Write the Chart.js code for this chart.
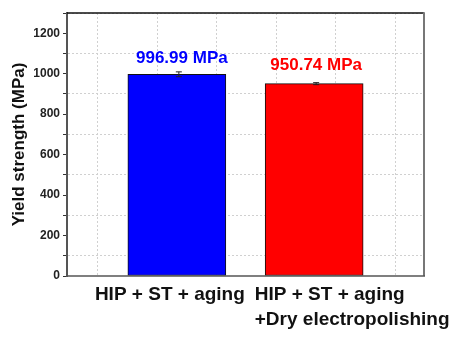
<!DOCTYPE html>
<html>
<head>
<meta charset="utf-8">
<script src="https://cdn.jsdelivr.net/npm/chart.js@4/dist/chart.umd.min.js"></script>
<style>
html,body{margin:0;padding:0;background:#fff;}
#wrap{width:459px;height:337px;position:relative;}
</style>
</head>
<body>
<div id="wrap"><canvas id="c" width="459" height="337"></canvas></div>
<script>
// ---- data ----
const categories = [["HIP + ST + aging"], ["HIP + ST + aging", "+Dry electropolishing"]];
const yieldStrength = [996.99, 950.74];
const errors = [12, 5];
const valueLabels = ["996.99 MPa", "950.74 MPa"];
const barColors = ["#0000FF", "#FF0000"];
const yTickValues = [0, 200, 400, 600, 800, 1000, 1200];

// ---- style ----
const FONT = "'Liberation Sans', Arial, sans-serif";
const labelShift = [-7, 38];

const framePlugin = {
  id: 'frame',
  afterDatasetsDraw(chart) {
    const {ctx, chartArea: a, scales} = chart;
    const xs = scales.x, ys = scales.y;
    const ds = chart.data.datasets[0];
    ctx.save();
    // error bars
    ctx.strokeStyle = '#222';
    ctx.lineWidth = 1;
    ds.data.forEach((p, i) => {
      const x = xs.getPixelForValue(p.x) + 2;
      const yT = ys.getPixelForValue(p.y + errors[i]);
      const yB = ys.getPixelForValue(p.y - errors[i]);
      ctx.beginPath();
      ctx.moveTo(x, yT); ctx.lineTo(x, yB);
      ctx.moveTo(x - 3, yT); ctx.lineTo(x + 3, yT);
      ctx.moveTo(x - 3, yB); ctx.lineTo(x + 3, yB);
      ctx.stroke();
    });
    // value labels
    ctx.font = "bold 17px " + FONT;
    ctx.textAlign = 'center';
    ctx.textBaseline = 'alphabetic';
    ds.data.forEach((p, i) => {
      const x = xs.getPixelForValue(p.x) + (i === 0 ? 5 : 2);
      const y = ys.getPixelForValue(p.y + errors[i]) - (i === 0 ? 9 : 13);
      ctx.fillStyle = barColors[i];
      ctx.fillText(valueLabels[i], x, y);
    });
    // frame
    ctx.strokeStyle = '#111';
    ctx.lineWidth = 1.5;
    ctx.beginPath(); ctx.moveTo(a.left, a.top); ctx.lineTo(a.right, a.top); ctx.stroke();
    ctx.strokeStyle = '#777';
    ctx.lineWidth = 2;
    ctx.beginPath(); ctx.moveTo(a.right, a.top - 0.75); ctx.lineTo(a.right, a.bottom); ctx.stroke();
    ctx.strokeStyle = '#555';
    ctx.lineWidth = 1.5;
    ctx.beginPath(); ctx.moveTo(a.left, a.bottom); ctx.lineTo(a.right + 1, a.bottom); ctx.stroke();
    // category labels
    ctx.fillStyle = '#111';
    ctx.font = "bold 19px " + FONT;
    ctx.textAlign = 'left';
    ctx.textBaseline = 'top';
    categories.forEach((lines, i) => {
      const cx = xs.getPixelForValue(i + 1) + labelShift[i];
      const w = Math.max(...lines.map(l => ctx.measureText(l).width));
      lines.forEach((l, k) => ctx.fillText(l, cx - w / 2, a.bottom + 9 + k * 25));
    });
    ctx.restore();
  }
};

new Chart(document.getElementById('c'), {
  type: 'bar',
  data: {
    datasets: [{
      data: yieldStrength.map((v, i) => ({x: i + 1, y: v})),
      backgroundColor: barColors,
      borderColor: '#111',
      borderWidth: 1,
      borderSkipped: false,
      barThickness: 98
    }]
  },
  options: {
    responsive: false,
    animation: false,
    layout: {padding: {left: 0, top: 13, right: 35, bottom: 61}},
    plugins: {legend: {display: false}, tooltip: {enabled: false}},
    scales: {
      x: {
        type: 'linear',
        offset: false,
        min: 0.2, max: 2.8,
        afterBuildTicks(s) {
          const t = [];
          for (let k = 0; k < 6; k++) t.push({value: s.min + (s.max - s.min) * (k + 0.52) / 6});
          s.ticks = t;
        },
        ticks: {display: false},
        grid: {offset: false, color: '#d0d0d0', lineWidth: 1, drawTicks: false},
        border: {display: false, dash: [2, 2]},
      },
      y: {
        min: 0, max: 1300,
        afterFit(s) { s.width = 67; },
        ticks: {
          stepSize: 100,
          padding: 3,
          color: '#222',
          font: {family: FONT, size: 12, weight: 'bold'},
          callback: v => yTickValues.includes(v) ? String(v) : ''
        },
        grid: {
          color: c => (c.tick && c.tick.value % 200 !== 0) ? '#d0d0d0' : 'rgba(0,0,0,0)',
          tickColor: '#333',
          tickLength: 4,
          lineWidth: 1
        },
        border: {color: '#555', width: 2, dash: [2, 2]},
        title: {
          display: true,
          text: 'Yield strength (MPa)',
          color: '#111',
          font: {family: FONT, size: 17, weight: 'bold'},
          padding: {top: 9, bottom: 0}
        }
      }
    }
  },
  plugins: [framePlugin]
});
</script>
</body>
</html>
